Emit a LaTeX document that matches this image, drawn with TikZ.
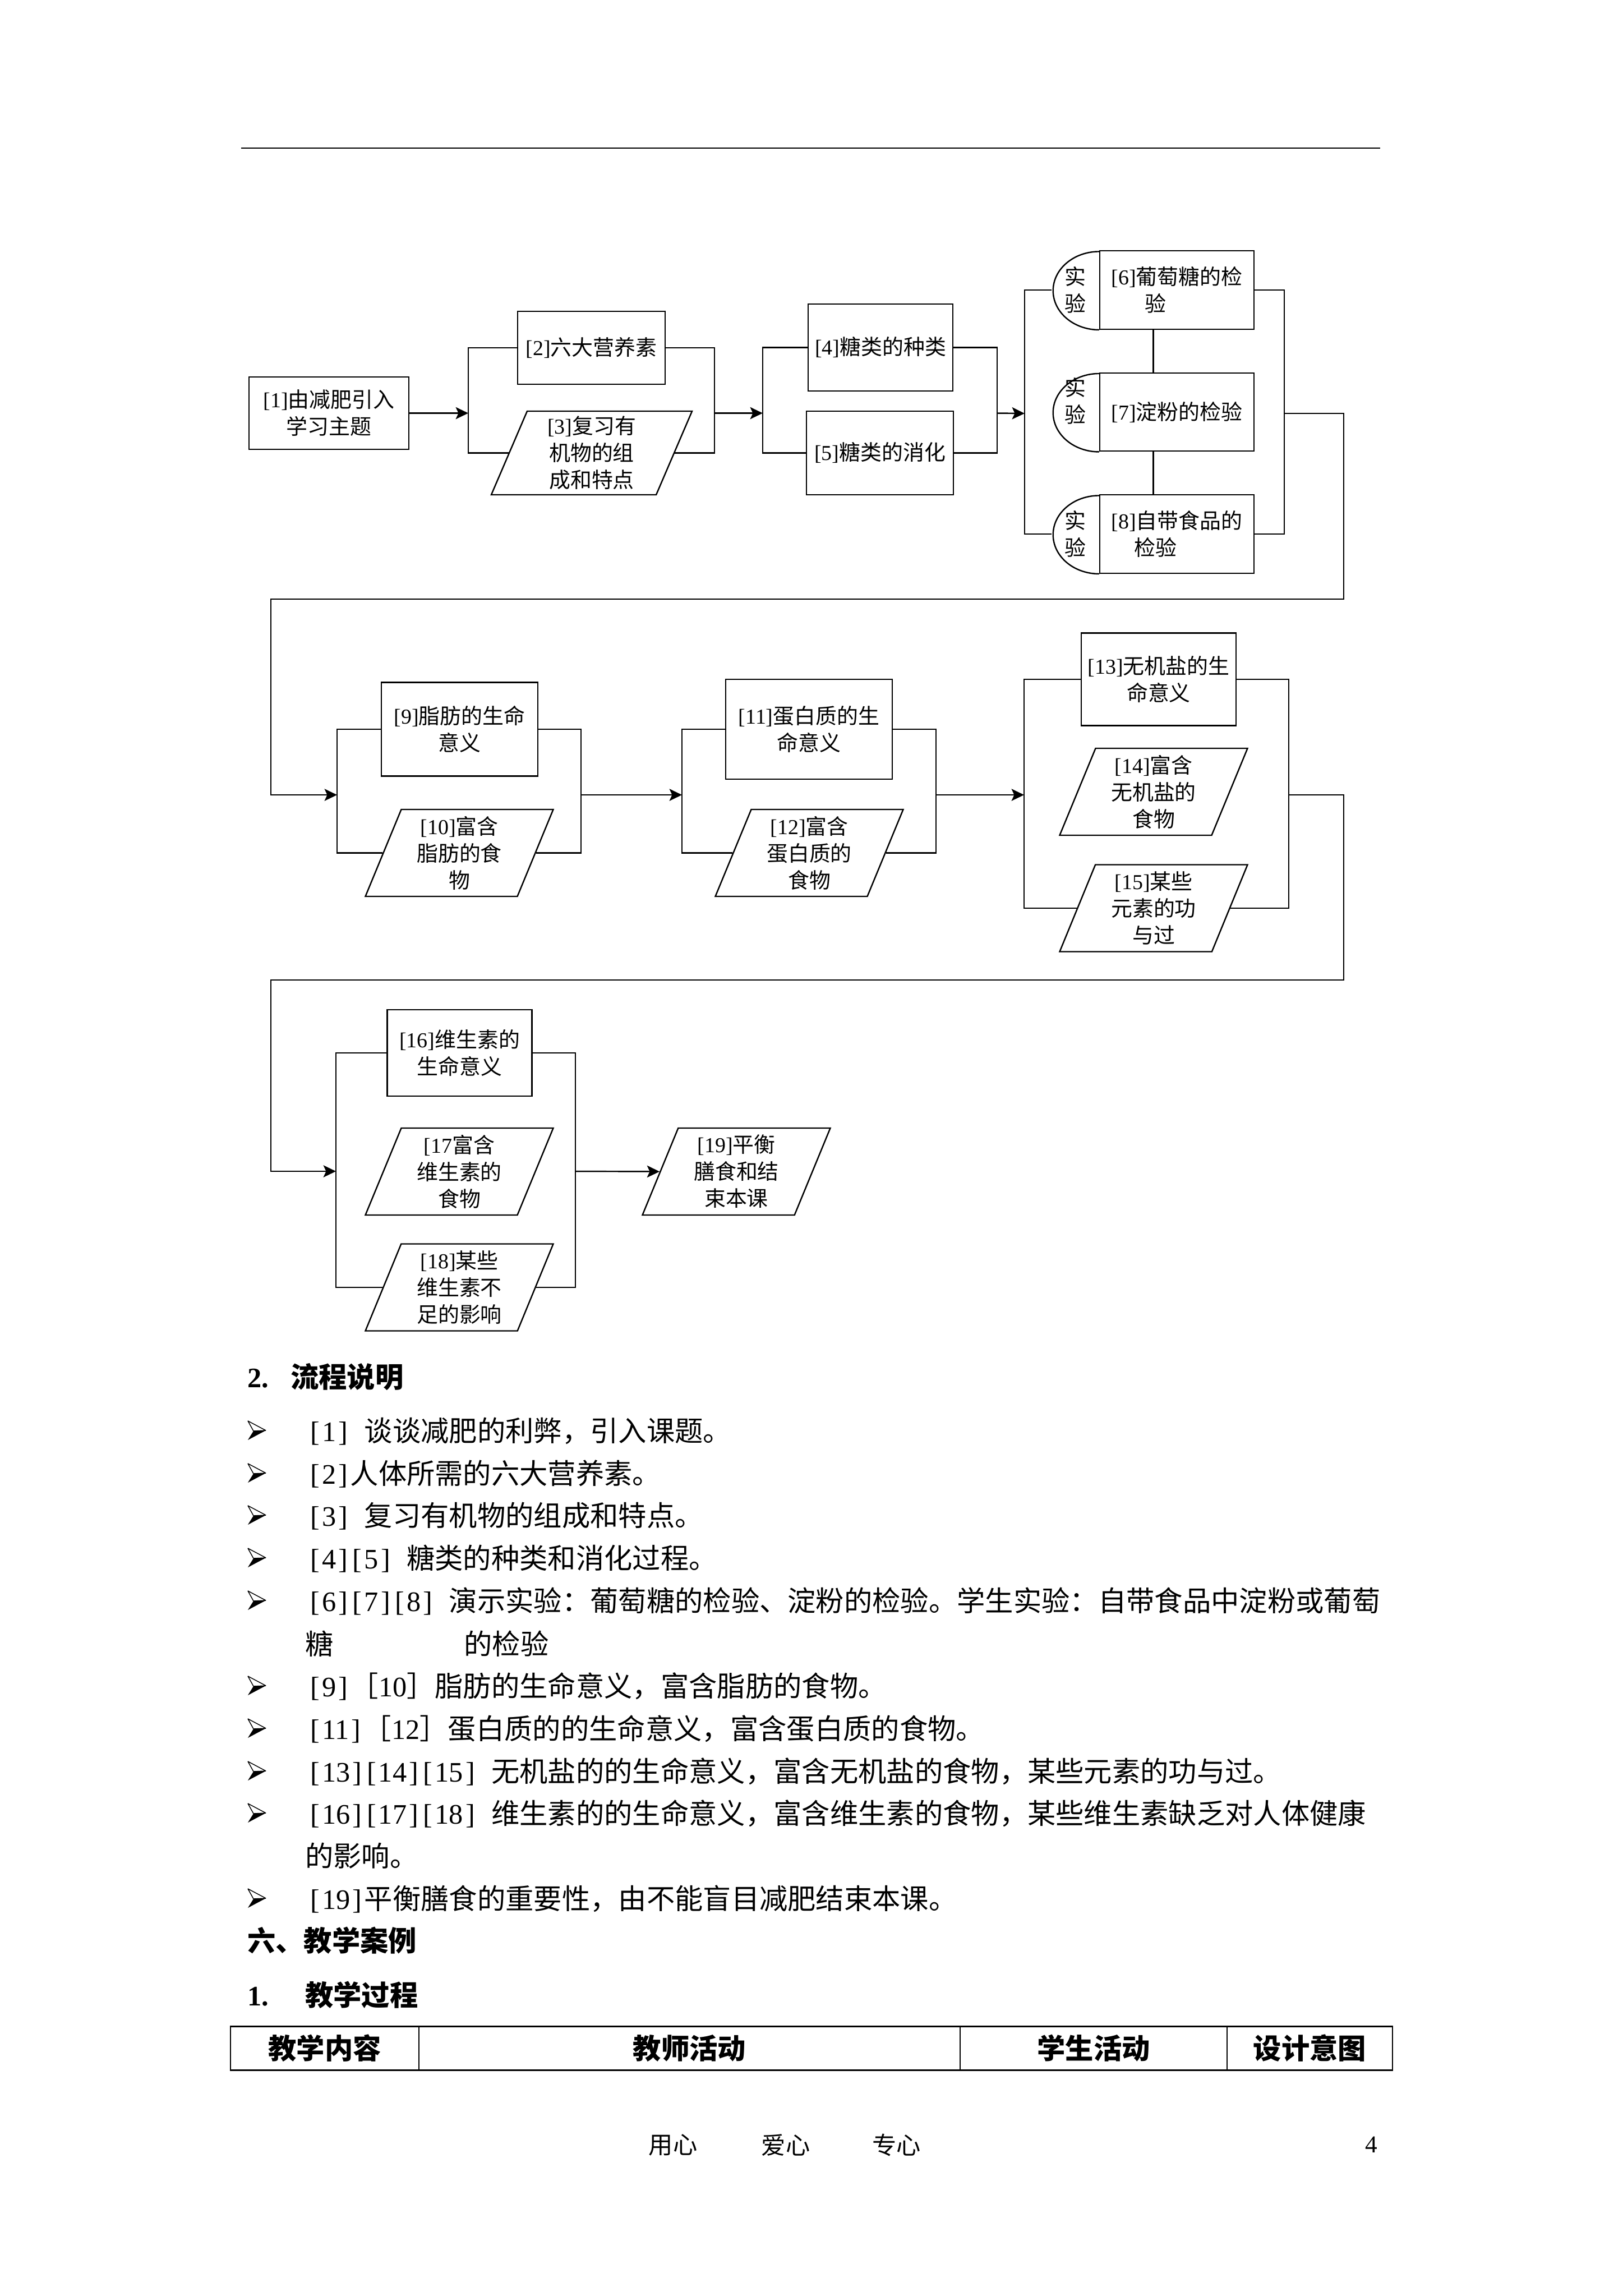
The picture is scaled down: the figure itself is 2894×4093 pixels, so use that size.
\documentclass[tikz,border=0pt]{standalone}
\usepackage{fontspec}
\setmainfont{Liberation Serif}
\newfontfamily\cjk{Noto Sans CJK SC}
\usetikzlibrary{arrows.meta,shapes.geometric,positioning,calc}

% one pixel of the page
\newcommand\pxu{0.20569pt}
% tags in the flow boxes and in the text
\newcommand\idx[1]{{\rmfamily[#1]}}
\newcommand\btag[1]{{\rmfamily\makebox[.5em]{[}#1\makebox[.5em]{]}}}

\tikzset{
  flow/.style={font=\cjk\fontsize{7.8}{9.87}\selectfont, align=center, inner sep=0pt},
  box/.style={flow, draw, rectangle},
  expbox/.style={box, minimum width=275*\pxu, minimum height=139.5*\pxu},
  tag/.style={flow, rectangle, minimum width=82*\pxu, minimum height=139.5*\pxu},
  para/.style={flow, draw, trapezium, trapezium left angle=64, trapezium right angle=116,
    trapezium stretches body, minimum width=335*\pxu, minimum height=155*\pxu},
  arr/.style={-{Stealth[length=4.6pt,width=4.4pt,inset=1pt]}},
  body/.style={font=\cjk\fontsize{10.35}{15}\selectfont, anchor=base west, inner sep=0pt},
  head/.style={body, font=\cjk\bfseries\fontsize{10.35}{15}\selectfont},
  cell/.style={font=\cjk\bfseries\fontsize{10.35}{15}\selectfont, inner sep=0pt},
  foot/.style={font=\cjk\fontsize{8.9}{11}\selectfont, inner sep=0pt},
  bulletmark/.pic={
    \fill (-16,17) -- (16,0) -- (-6,1) -- cycle;
    \draw[line width=0.3pt, line join=bevel] (-16,-17) -- (16,0) -- (-6,1) -- cycle;
  }
}

\begin{document}
\begin{tikzpicture}[x=0.20569pt, y=-0.20569pt, line width=0.5pt]
  \useasboundingbox (0,0) rectangle (2894,4093);

  % page header rule
  \draw (430,264) -- (2461,264);

  % row 1
  \node[box, minimum width=285*\pxu, minimum height=129*\pxu] (n1) at (586.5,736.5) {\idx{1}由减肥引入\\学习主题};
  \node[box, minimum width=263*\pxu, minimum height=130*\pxu] (n2) at (1054.5,620) {\idx{2}六大营养素};
  \node[para, minimum width=358*\pxu, minimum height=149*\pxu] (n3) at (1055,807.5) {\idx{3}复习有\\机物的组\\成和特点};
  \node[box, minimum width=258*\pxu, minimum height=155*\pxu] (n4) at (1570,619.5) {\idx{4}糖类的种类};
  \node[box, minimum width=262*\pxu, minimum height=149*\pxu] (n5) at (1569,807.5) {\idx{5}糖类的消化};
  \node[expbox] (n6) at (2098.5,517) {\idx{6}葡萄糖的检\\验\phantom{验验}};
  \node[expbox] (n7) at (2098.5,734.5) {\idx{7}淀粉的检验};
  \node[expbox] (n8) at (2098.5,952) {\idx{8}自带食品的\\检验\phantom{验验}};
  \node[tag, left=0pt of n6] (t6) {实\\验};
  \node[tag, left=0pt of n7, yshift=4.1pt] (t7) {实\\验};
  \node[tag, left=0pt of n8] (t8) {实\\验};
  \foreach \e in {n6,n7,n8}
    \draw (\e.south west) arc[start angle=270, end angle=90, x radius=16.87pt, y radius=14.35pt];

  \coordinate (b1in) at (835,736.5);
  \coordinate (b1out) at (1274,736.5);
  \coordinate (b2in) at (1360,736.5);
  \coordinate (b2out) at (1778,736.5);
  \coordinate (b3in) at (1827,737);
  \coordinate (b3out) at (2290,737);
  \coordinate (m6) at ($(t6.south west)!.5!(n6.south east)$);
  \coordinate (m7) at (m6 |- n7.south);

  \draw[arr] (n1.east) -- (b1in);
  \draw (n2.west) -| (b1in) |- (n3.left side);
  \draw (n2.east) -| (b1out) |- (n3.right side);
  \draw[arr] (b1out) -- (b2in);
  \draw (n4.west) -| (b2in) |- (n5.west);
  \draw (n4.east) -| (b2out) |- (n5.east);
  \draw[arr] (b2out) -- (b3in);
  \draw (t6.west) -| (b3in) |- (t8.west);
  \draw (n6.east) -| (b3out) |- (n8.east);
  \draw (m6) -- (m6 |- n7.north);
  \draw (m7) -- (m7 |- n8.north);

  % back to the left
  \coordinate (turn1) at (2396,1068);
  \coordinate (turn2) at (483,1068);
  \coordinate (b4in) at (601,1417);
  \draw[arr] (b3out) -| (turn1) -- (turn2) |- (b4in);

  % row 2
  \node[box, minimum width=279*\pxu, minimum height=167*\pxu] (n9) at (819.5,1300) {\idx{9}脂肪的生命\\意义};
  \node[para] (n10) at (819,1520.5) {\idx{10}富含\\脂肪的食\\物};
  \node[box, minimum width=297*\pxu, minimum height=178*\pxu] (n11) at (1442.5,1300) {\idx{11}蛋白质的生\\命意义};
  \node[para] (n12) at (1443,1520.5) {\idx{12}富含\\蛋白质的\\食物};
  \node[box, minimum width=276*\pxu, minimum height=165*\pxu] (n13) at (2066,1211) {\idx{13}无机盐的生\\命意义};
  \node[para] (n14) at (2057,1411.5) {\idx{14}富含\\无机盐的\\食物};
  \node[para] (n15) at (2057,1619) {\idx{15}某些\\元素的功\\与过};

  \coordinate (b4out) at (1036,1417);
  \coordinate (b5in) at (1216,1417);
  \coordinate (b5out) at (1669,1417);
  \coordinate (b6in) at (1826,1417);
  \coordinate (b6out) at (2298,1417);

  \draw (n9.west) -| (b4in) |- (n10.left side);
  \draw (n9.east) -| (b4out) |- (n10.right side);
  \draw[arr] (b4out) -- (b5in);
  \draw (n11.west) -| (b5in) |- (n12.left side);
  \draw (n11.east) -| (b5out) |- (n12.right side);
  \draw[arr] (b5out) -- (b6in);
  \draw (n13.west) -| (b6in) |- (n15.left side);
  \draw (n13.east) -| (b6out) |- (n15.right side);

  % back to the left again
  \coordinate (turn3) at (2396,1747);
  \coordinate (turn4) at (483,1747);
  \coordinate (b7in) at (599,2088);
  \draw[arr] (b6out) -| (turn3) -- (turn4) |- (b7in);

  % row 3
  \node[box, minimum width=258*\pxu, minimum height=154*\pxu] (n16) at (819.5,1877) {\idx{16}维生素的\\生命意义};
  \node[para] (n17) at (819,2088.5) {{\rmfamily[17}富含\\维生素的\\食物};
  \node[para] (n18) at (819,2295) {\idx{18}某些\\维生素不\\足的影响};
  \node[para] (n19) at (1313,2088.5) {\idx{19}平衡\\膳食和结\\束本课};

  \coordinate (b7out) at (1026,2088);
  \draw (n16.west) -| (b7in) |- (n18.left side);
  \draw (n16.east) -| (b7out) |- (n18.right side);
  \draw[arr] (b7out) -- (n19.left side);

  % flow description
  \node[head] (h1) at (440,2473) {{\rmfamily 2.}\hspace{8.1pt}流程说明};
  \foreach \y in {2550,2626,2701,2777,2853,3005,3081,3157,3232,3384}
    \pic at (458,\y) {bulletmark};
  \node[body] (l1) at (548,2569) {\btag{1}\hspace{.5em}谈谈减肥的利弊，引入课题。};
  \node[body] (l2) at (548,2645) {\btag{2}人体所需的六大营养素。};
  \node[body] (l3) at (548,2720) {\btag{3}\hspace{.5em}复习有机物的组成和特点。};
  \node[body] (l4) at (548,2796) {\btag{4}\btag{5}\hspace{.5em}糖类的种类和消化过程。};
  \node[body] (l5) at (548,2872) {\btag{6}\btag{7}\btag{8}\hspace{.5em}演示实验：葡萄糖的检验、淀粉的检验。学生实验：自带食品中淀粉或葡萄};
  \node[body] (l6) at (543,2949) {糖\hspace{47.9pt}的检验};
  \node[body] (l7) at (548,3024) {\btag{9}［{\rmfamily 10}］脂肪的生命意义，富含脂肪的食物。};
  \node[body] (l8) at (548,3100) {\btag{11}［{\rmfamily 12}］蛋白质的的生命意义，富含蛋白质的食物。};
  \node[body] (l9) at (548,3176) {\btag{13}\btag{14}\btag{15}\hspace{.5em}无机盐的的生命意义，富含无机盐的食物，某些元素的功与过。};
  \node[body] (l10) at (548,3251) {\btag{16}\btag{17}\btag{18}\hspace{.5em}维生素的的生命意义，富含维生素的食物，某些维生素缺乏对人体健康};
  \node[body] (l11) at (543,3327) {的影响。};
  \node[body] (l12) at (548,3403) {\btag{19}平衡膳食的重要性，由不能盲目减肥结束本课。};

  % teaching case
  \node[head] (h2) at (440,3478) {六、教学案例};
  \node[head] (h3) at (440,3575) {{\rmfamily 1.}\hspace{13.4pt}教学过程};

  % table head
  \draw[line width=0.6pt] (411,3612) rectangle (2483,3690.5);
  \foreach \x in {747,1712,2188}
    \draw[line width=0.4pt] (\x,3612) -- (\x,3690.5);
  \node[cell] (c1) at (579,3651) {教学内容};
  \node[cell] (c2) at (1229.5,3651) {教师活动};
  \node[cell] (c3) at (1950,3651) {学生活动};
  \node[cell] (c4) at (2335.5,3651) {设计意图};

  % page footer
  \node[foot] (f1) at (1200,3824) {用心};
  \node[foot] (f2) at (1401,3824) {爱心};
  \node[foot] (f3) at (1598.5,3824) {专心};
  \node[foot] (f4) at (2445,3823) {\rmfamily 4};
\end{tikzpicture}
\end{document}
